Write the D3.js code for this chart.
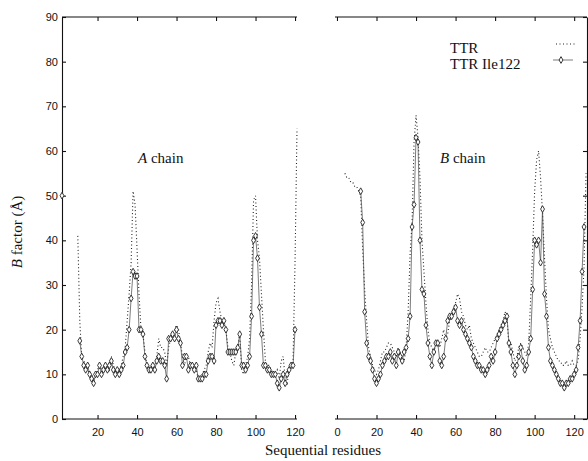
<!DOCTYPE html>
<html>
<head>
<meta charset="utf-8">
<script src="https://cdn.jsdelivr.net/npm/d3@7"></script>
<style>
  body { margin: 0; background: white; }
  .axis text { font-family: "Liberation Sans", Arial, sans-serif; font-size: 11px; fill: #111; }
  .axis path, .axis line { stroke: #111; stroke-width: 1.1; }
  .serif { font-family: "Liberation Serif", "Times New Roman", serif; fill: #111; }
</style>
</head>
<body>
<div id="container"></div>
<script>
// B factor per residue
let tickValuesY = [0, 10, 20, 30, 40, 50, 60, 70, 80, 90];
let tickValuesA = [20, 40, 60, 80, 100, 120];
let tickValuesB = [0, 20, 40, 60, 80, 100, 120];

// chain A, TTR (dotted), residues 10..121
let chainATTRStart = 10;
let chainATTR = [41, 22, 14, 13, 12, 11, 10, 10, 9, 10,
  11, 12, 11, 12, 11, 12, 11, 14, 12, 11,
  11, 11, 12, 14, 16, 22, 28, 35, 51, 48,
  38, 28, 20, 19, 15, 12, 11, 11, 12, 12,
  14, 18, 16, 16, 15, 12, 16, 18, 19, 20,
  21, 20, 17, 14, 12, 14, 14, 12, 12, 12,
  11, 9, 9, 10, 11, 12, 15, 17, 16, 22,
  26, 27, 24, 22, 21, 20, 16, 15, 13, 12,
  15, 16, 19, 11, 10, 12, 14, 18, 30, 49,
  50, 40, 36, 28, 20, 13, 12, 12, 11, 10,
  10, 11, 9, 13, 14, 9, 8, 11, 12, 13,
  35, 65];

// chain A, TTR Ile122 (solid + markers), residues 2..120
let chainAIleStart = 2;
let chainAIle = [50, null, null, null, null, null, null, null, null, 17.5,
  14, 12, 11, 12, 10, 9, 8, 10, 10, 12,
  10, 11, 12, 11, 12, 13, 11, 10, 11, 10,
  11, 12, 15, 16, 20, 27, 33, 32, 32, 20,
  20, 19, 14, 12, 11, 11, 12, 11, 13, 14,
  13, 13, 12, 9, 18, 18, 19, 18, 20, 18,
  17, 12, 14, 14, 11, 12, 12, 11, 12, 9,
  9, 9, 10, 10, 13, 14, 14, 13, 21, 22,
  22, 21, 22, 20, 15, 15, 15, 15, 15, 16,
  19, 12, 12, 11, 12, 14, 23, 40, 41, 36,
  25, 19, 12, 12, 11, 11, 10, 10, 10, 8,
  7, 9, 10, 8, 10, 11, 12, 12, 20];

// chain B, TTR (dotted), residues 4..126
let chainBTTRStart = 4;
let chainBTTR = [55, 54, 54, 53, 53, 52, 52, 51, 50, 38,
  29, 22, 16, 14, 12, 11, 10, 11, 13, 15,
  15, 16, 17, 17, 16, 15, 14, 16, 15, 14,
  13, 16, 24, 37, 44, 62, 68, 63, 54, 40,
  33, 26, 20, 17, 16, 15, 17, 17, 16, 18,
  20, 18, 19, 22, 23, 25, 26, 28, 27, 24,
  23, 21, 20, 21, 18, 17, 16, 15, 14, 14,
  15, 16, 15, 15, 16, 17, 18, 19, 20, 21,
  22, 24, 23, 16, 17, 15, 13, 14, 16, 17,
  16, 15, 14, 17, 27, 38, 51, 58, 60, 54,
  46, 36, 27, 20, 18, 16, 15, 14, 13, 13,
  12, 12, 13, 12, 12, 13, 12, 12, 13, 18,
  25, 34, 55];

// chain B, TTR Ile122 (solid + markers), residues 12..125
let chainBIleStart = 12;
let chainBIle = [51, 44, 24, 17, 14, 13, 11, 9, 8, 9,
  10, 12, 13, 14, 14, 15, 13, 14, 12, 15,
  14, 13, 15, 16, 18, 23, 43, 48, 63, 62,
  40, 29, 28, 21, 17, 14, 12, 15, 17, 17,
  13, 12, 14, 18, 22, 23, 23, 24, 25, 22,
  21, 22, 20, 19, 18, 17, 16, 14, 13, 12,
  12, 11, 11, 10, 11, 12, 14, 13, 15, 18,
  19, 20, 21, 22, 23, 17, 15, 12, 10, 12,
  14, 16, 13, 11, 12, 15, 18, 29, 40, 39,
  40, 35, 47, 28, 23, 16, 13, 12, 11, 10,
  9, 8, 8, 7, 8, 8, 9, 9, 10, 11,
  16, 22, 33, 43];

let w = 588;
let h = 461;

let viz = d3.select("#container")
  .append("svg")
  .attr("width", w)
  .attr("height", h)
  .style("background-color", "white")
  ;

function toPoints(start, values) {
  return values.map(function (v, i) {
    return { r: start + i, v: v };
  });
}

let yScale = d3.scaleLinear().domain([0, 90]).range([419, 17]);
let xScaleA = d3.scaleLinear().domain([2, 121]).range([62, 297]);
let xScaleB = d3.scaleLinear().domain([-1, 127]).range([335, 588]);

// ---- axes / frame ----
function drawFrame(xScale, ticks, left, right, showLeft, showRight) {
  let bottom = viz.append("g").attr("class", "axis")
    .attr("transform", "translate(0, 419)")
    .call(d3.axisBottom(xScale).tickValues(ticks).tickSize(-4).tickSizeOuter(0).tickPadding(9));
  bottom.select(".domain").attr("d", "M" + left + ",0H" + right);

  let top = viz.append("g").attr("class", "axis")
    .attr("transform", "translate(0, 17)")
    .call(d3.axisTop(xScale).tickValues(ticks).tickSize(-4).tickSizeOuter(0).tickFormat(""));
  top.select(".domain").attr("d", "M" + left + ",0H" + right);

  if (showLeft) {
    viz.append("g").attr("class", "axis")
      .attr("transform", "translate(" + left + ", 0)")
      .call(d3.axisLeft(yScale).tickValues(tickValuesY).tickSize(-4).tickSizeOuter(0).tickPadding(4));
  }
  if (showRight) {
    viz.append("g").attr("class", "axis")
      .attr("transform", "translate(" + right + ", 0)")
      .call(d3.axisRight(yScale).tickValues(tickValuesY).tickSize(-4).tickSizeOuter(0).tickFormat(""));
  }
}

drawFrame(xScaleA, tickValuesA, 62, 297, true, false);
drawFrame(xScaleB, tickValuesB, 335, 587, false, true);

// ---- series ----
function drawSeries(xScale, points, dotted) {
  let line = d3.line()
    .defined(function (d) { return d.v != null; })
    .x(function (d) { return xScale(d.r); })
    .y(function (d) { return yScale(d.v); });

  let path = viz.append("path")
    .datum(points)
    .attr("d", line)
    .attr("fill", "none")
    .attr("stroke", "#222")
    ;

  if (dotted) {
    path.attr("stroke-width", 1.1).attr("stroke-dasharray", "1,2.5");
  } else {
    path.attr("stroke-width", 0.7).attr("stroke", "#444");
    viz.append("g").selectAll("path")
      .data(points.filter(function (d) { return d.v != null; }))
      .enter()
      .append("path")
      .attr("d", d3.symbol(d3.symbolDiamond).size(13))
      .attr("transform", function (d) { return "translate(" + xScale(d.r) + "," + yScale(d.v) + ")"; })
      .attr("fill", "white")
      .attr("stroke", "#222")
      .attr("stroke-width", 0.9)
      ;
  }
}

drawSeries(xScaleA, toPoints(chainATTRStart, chainATTR), true);
drawSeries(xScaleA, toPoints(chainAIleStart, chainAIle), false);
drawSeries(xScaleB, toPoints(chainBTTRStart, chainBTTR), true);
drawSeries(xScaleB, toPoints(chainBIleStart, chainBIle), false);

// ---- labels ----
let aLabel = viz.append("text").attr("class", "serif")
  .attr("x", 138).attr("y", 163).style("font-size", "15px");
aLabel.append("tspan").style("font-style", "italic").text("A");
aLabel.append("tspan").text(" chain");

let bLabel = viz.append("text").attr("class", "serif")
  .attr("x", 440).attr("y", 163).style("font-size", "15px");
bLabel.append("tspan").style("font-style", "italic").text("B");
bLabel.append("tspan").text(" chain");

viz.append("text").attr("class", "serif")
  .attr("x", 323).attr("y", 455)
  .attr("text-anchor", "middle")
  .style("font-size", "15px")
  .text("Sequential residues");

let yLabel = viz.append("text").attr("class", "serif")
  .attr("transform", "translate(22, 232) rotate(-90)")
  .attr("text-anchor", "middle")
  .style("font-size", "15px");
yLabel.append("tspan").style("font-style", "italic").text("B");
yLabel.append("tspan").text(" factor (Å)");

// legend
viz.append("text").attr("class", "serif")
  .attr("x", 450).attr("y", 53).style("font-size", "15px").text("TTR");
viz.append("text").attr("class", "serif")
  .attr("x", 450).attr("y", 69).style("font-size", "15px").text("TTR Ile122");

viz.append("line")
  .attr("x1", 556).attr("x2", 576).attr("y1", 44).attr("y2", 44)
  .attr("stroke", "#222").attr("stroke-width", 1.1).attr("stroke-dasharray", "1,2.5");
viz.append("line")
  .attr("x1", 553).attr("x2", 573).attr("y1", 60).attr("y2", 60)
  .attr("stroke", "#444").attr("stroke-width", 0.7);
viz.append("path")
  .attr("d", d3.symbol(d3.symbolDiamond).size(13))
  .attr("transform", "translate(561,60)")
  .attr("fill", "white").attr("stroke", "#222").attr("stroke-width", 0.9);
</script>
</body>
</html>
